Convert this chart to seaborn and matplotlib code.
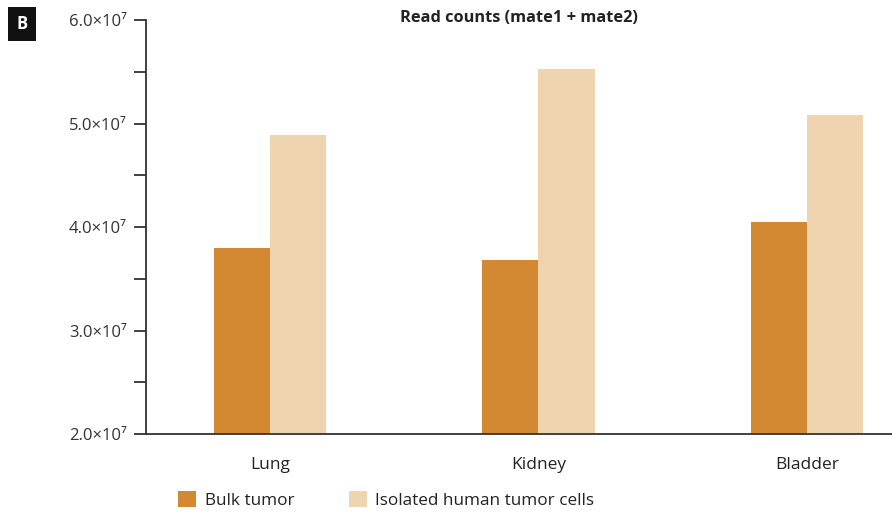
import seaborn as sns
import matplotlib.pyplot as plt
import pandas as pd
from matplotlib.ticker import FixedLocator, MultipleLocator

# read counts per tissue
tissues = ['Lung', 'Kidney', 'Bladder']
bulk_tumor = [3.80e7, 3.68e7, 4.05e7]
isolated_cells = [4.89e7, 5.53e7, 5.08e7]
series_names = ['Bulk tumor', 'Isolated human tumor cells']
ytick_vals = [2.0e7, 3.0e7, 4.0e7, 5.0e7, 6.0e7]
ytick_labels = ['2.0\u00d710\u2077', '3.0\u00d710\u2077', '4.0\u00d710\u2077',
                '5.0\u00d710\u2077', '6.0\u00d710\u2077']

df = pd.DataFrame({
    'tissue': tissues * 2,
    'group': [series_names[0]] * 3 + [series_names[1]] * 3,
    'reads': bulk_tumor + isolated_cells,
})

sns.set_style('white')
plt.rcParams['font.family'] = ['Open Sans', 'DejaVu Sans']

fig = plt.figure(figsize=(8.92, 5.13), dpi=100)
ax = fig.add_axes([0.1637, 0.154, 0.8363, 0.807])

sns.barplot(data=df, x='tissue', y='reads', hue='group', order=tissues,
            palette=['#d38932', '#eed5b0'], width=0.42, saturation=1,
            linewidth=0, ax=ax, legend=True)

ax.set_ylim(2.0e7, 6.0e7)
ax.set_xlim(-0.462, 2.317)
ax.yaxis.set_major_locator(FixedLocator(ytick_vals))
ax.set_yticklabels(ytick_labels)
ax.yaxis.set_minor_locator(MultipleLocator(0.5e7))
ax.tick_params(axis='y', which='both', left=True, length=9, width=1.3,
               color='#333333', labelsize=12, labelcolor='#333333', pad=5)
ax.tick_params(axis='x', bottom=False, labelsize=12.5, labelcolor='#222222', pad=13)
ax.set_xlabel('')
ax.set_ylabel('')

sns.despine(ax=ax)
for side in ['left', 'bottom']:
    ax.spines[side].set_color('#333333')
    ax.spines[side].set_linewidth(1.3)

ax.set_title('Read counts (mate1 + mate2)', fontsize=11.8, fontweight='bold',
             color='#222222', y=0.985, pad=3)

handles, labels = ax.get_legend_handles_labels()
ax.get_legend().remove()
fig.legend(handles, labels, loc='center', bbox_to_anchor=(0.433, 0.025), ncol=2,
           frameon=False, fontsize=12.3, handlelength=1.05, handleheight=1.05,
           columnspacing=3.2, handletextpad=0.5, labelcolor='#222222')

fig.text(0.0247, 0.953, 'B', color='white', fontsize=12, fontweight='bold',
         ha='center', va='center',
         bbox=dict(boxstyle='square,pad=0.5', facecolor='#111111', edgecolor='none'))

fig.savefig('out.png', dpi=100)
